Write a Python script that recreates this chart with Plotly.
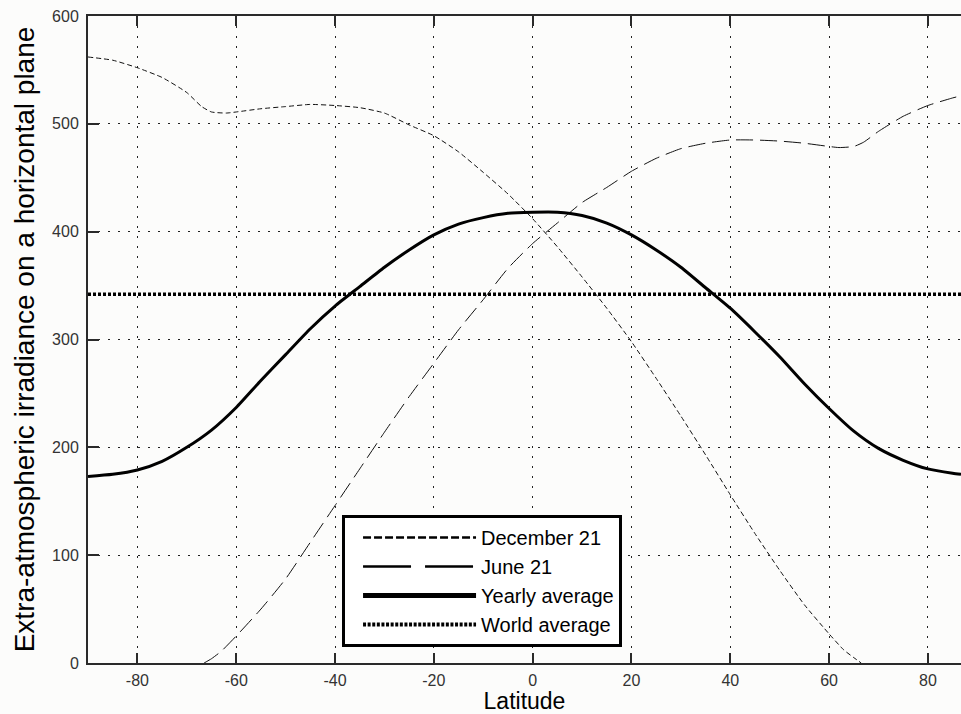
import plotly.graph_objects as go

# Latitude (degrees) and daily extra-atmospheric irradiance (W/m2)
lat_dec = [-90, -85, -80, -75, -70, -67, -65, -62, -60, -55, -50, -45, -40, -35, -30,
           -25, -20, -15, -10, -5, 0, 5, 10, 15, 20, 25, 30, 35, 40, 45, 50, 55, 60,
           63, 65, 66.5]
dec21 = [562, 559, 552, 543, 529, 516, 511, 510, 511, 514, 516, 518, 517, 515, 510,
         499, 489, 474, 455, 435, 412, 386, 358, 329, 298, 264, 229, 193, 156, 120, 86, 54, 27,
         12, 5, 0]

lat_jun = [-66.5, -65, -63, -60, -55, -50, -45, -40, -35, -30, -25, -20,
           -15, -10, -5, 0, 5, 10, 15, 20, 25, 30, 35, 40, 45, 50, 55, 60, 62, 65, 67,
           70, 75, 80, 85, 86.7]
jun21 = [0, 4, 11, 25, 50, 78, 112, 146, 180, 214, 247, 278,
         309, 337, 366, 389, 408, 427, 441, 456, 468, 477, 482, 485, 485, 484, 482, 479, 478, 479, 483,
         493, 507, 517, 524, 526]

lat_year = [-90, -85, -80, -75, -70, -65, -60, -55, -50, -45, -40, -35, -30, -25, -20,
            -15, -10, -5, 0, 5, 10, 15, 20, 25, 30, 35, 40, 45, 50, 55, 60, 65, 70,
            75, 80, 85, 86.7]
yearly = [173, 175, 179, 187, 200, 216, 237, 262, 286, 310, 331, 349, 367, 383, 397,
          407, 413, 417, 418, 418, 415, 408, 397, 383, 367, 348, 329, 307, 284, 259, 236, 215, 199,
          188, 180, 176, 175]

world_avg = 342
lat_range = [-90, 86.7]

x_ticks = [-80, -60, -40, -20, 0, 20, 40, 60, 80]
y_ticks = [0, 100, 200, 300, 400, 500, 600]

INK = "#111111"
AXIS = "#2a2a2a"
FONT = "Liberation Sans, Arial, sans-serif"

fig = go.Figure()

# curves (legend entries are drawn separately with heavier samples)
fig.add_trace(go.Scatter(x=lat_dec, y=dec21, mode="lines", showlegend=False,
                         line=dict(color=INK, width=1, dash="5px,3px", shape="spline", smoothing=0.5)))
fig.add_trace(go.Scatter(x=lat_jun, y=jun21, mode="lines", showlegend=False,
                         line=dict(color=INK, width=1, dash="17px,7px", shape="spline", smoothing=0.5)))
fig.add_trace(go.Scatter(x=lat_year, y=yearly, mode="lines", showlegend=False,
                         line=dict(color="#000000", width=3, shape="spline", smoothing=0.6)))
fig.add_trace(go.Scatter(x=lat_range, y=[world_avg, world_avg], mode="lines", showlegend=False,
                         line=dict(color="#000000", width=3.5, dash="3px,2px")))

# legend samples
legend_styles = [
    ("December 21", dict(color="#000000", width=2.5, dash="8px,3px")),
    ("June 21", dict(color="#000000", width=2.5, dash="48px,14px")),
    ("Yearly average", dict(color="#000000", width=5)),
    ("World average", dict(color="#000000", width=4, dash="3px,1.6px")),
]
for name, style in legend_styles:
    fig.add_trace(go.Scatter(x=[None], y=[None], mode="lines", name=name, line=style))

fig.update_layout(
    width=961, height=714,
    margin=dict(l=88, r=0, t=16, b=51),
    paper_bgcolor="#fcfcfb", plot_bgcolor="#fcfcfb",
    font=dict(family=FONT, color="#000000"),
    legend=dict(
        x=0.291, y=0.2287, xanchor="left", yanchor="top",
        bgcolor="#ffffff", bordercolor="#000000", borderwidth=3,
        font=dict(size=20, family=FONT, color="#000000"),
        itemwidth=113, indentation=13, tracegroupgap=0,
    ),
    xaxis=dict(
        range=lat_range, tickvals=x_ticks, ticktext=[str(v) for v in x_ticks],
        showgrid=True, gridcolor="#222222", gridwidth=1, griddash="2px,8px",
        zeroline=False, showline=True, linecolor=AXIS, linewidth=2, mirror="ticks",
        ticks="inside", ticklen=10, tickwidth=1.5, tickcolor=AXIS,
        ticklabelstandoff=2,
        tickfont=dict(family=FONT, size=16, color="#333333"),
        title=dict(text="Latitude", font=dict(size=23), standoff=4),
    ),
    yaxis=dict(
        range=[0, 600], tickvals=y_ticks, ticktext=[str(v) for v in y_ticks],
        showgrid=True, gridcolor="#222222", gridwidth=1, griddash="2px,8px",
        zeroline=False, showline=True, linecolor=AXIS, linewidth=2, mirror=False,
        ticks="inside", ticklen=11, tickwidth=1.5, tickcolor=AXIS,
        ticklabelstandoff=4,
        tickfont=dict(family=FONT, size=16, color="#333333"),
        title=dict(text="Extra-atmospheric irradiance on a horizontal plane", font=dict(size=28), standoff=9),
    ),
)

fig.write_html("out.html")
